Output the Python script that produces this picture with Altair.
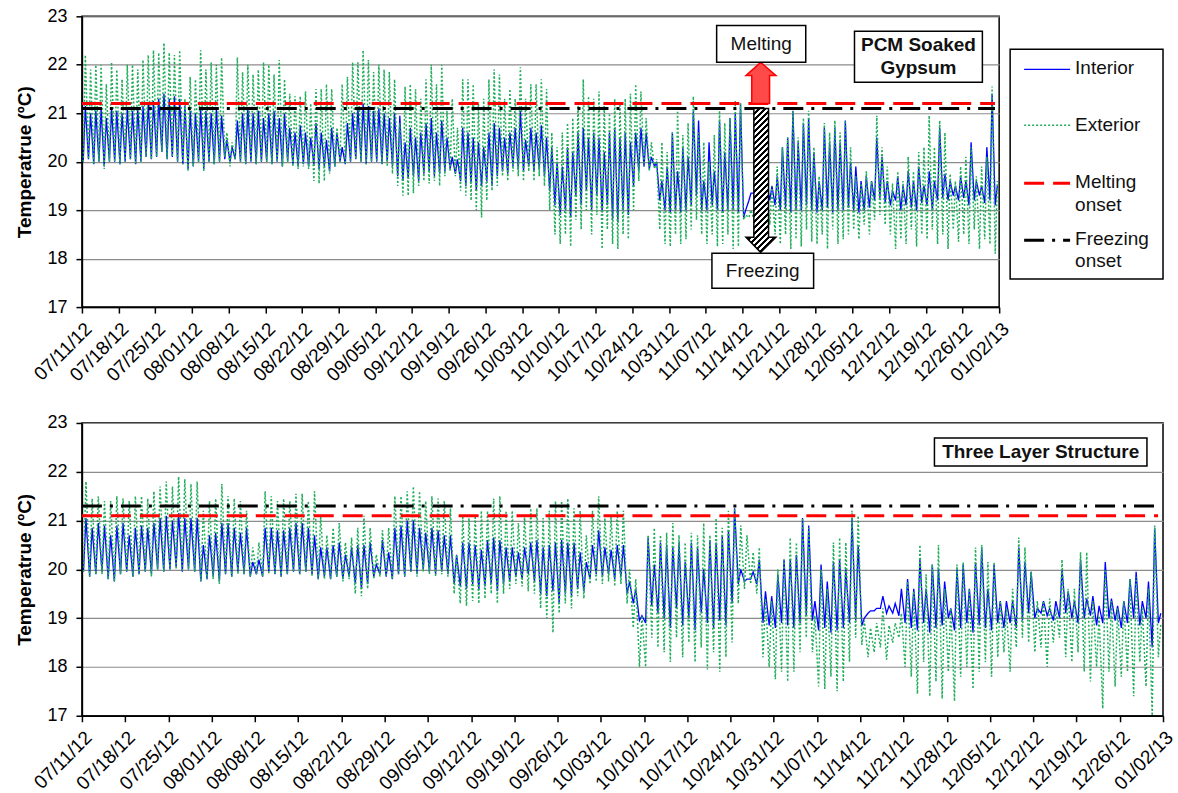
import altair as alt
import pandas as pd

# ---------------- tick labels (one every 7 days, day 0 = 07/11/12) ----------------
tick_labels = ['07/11/12', '07/18/12', '07/25/12', '08/01/12', '08/08/12', '08/15/12',
               '08/22/12', '08/29/12', '09/05/12', '09/12/12', '09/19/12', '09/26/12',
               '10/03/12', '10/10/12', '10/17/12', '10/24/12', '10/31/12', '11/07/12',
               '11/14/12', '11/21/12', '11/28/12', '12/05/12', '12/12/12', '12/19/12',
               '12/26/12', '01/02/13']

# ---------------- PCM soaked gypsum: daily minimum / maximum (degC) ----------------
pcm_int_min = [
    20.0, 20.05, 19.95, 20.0, 19.9, 20.0, 20.0,
    19.95, 20.0, 20.05, 19.95, 20.0, 20.1, 20.05,
    20.1, 20.2, 20.05, 20.1, 20.0, 19.95, 19.85,
    19.9, 20.0, 19.85, 20.0, 19.95, 20.0, 20.05,
    20.0, 20.05, 20.0, 19.95, 20.0, 19.95, 20.0,
    20.0, 19.95, 20.0, 19.9, 20.0, 19.95, 19.9,
    19.95, 19.9, 19.95, 19.85, 19.9, 19.8, 19.9,
    20.0, 19.95, 20.0, 20.05, 20.0, 19.95, 20.0,
    20.0, 19.95, 20.0, 19.9, 19.7, 19.6, 19.65,
    19.7, 19.6, 19.75, 19.8, 19.7, 19.75, 19.8,
    19.85, 19.75, 19.6, 19.5, 19.55, 19.4, 19.5,
    19.6, 19.5, 19.7, 19.8, 19.75, 19.9, 19.85,
    19.8, 19.9, 19.8, 19.85, 19.7, 19.4, 19.1,
    18.9, 19.0, 18.85, 19.3, 19.1, 19.4, 19.0,
    19.3, 18.95, 19.1, 18.8, 18.75, 19.0, 18.9,
    19.5, 19.8, 19.9, 19.85, 19.9, 19.2, 19.0,
    18.95, 19.0, 18.95, 19.0, 19.1, 19.3, 19.0,
    19.0, 19.1, 19.0, 18.95, 19.0, 19.0, 18.95,
    18.85, 19.2, 19.35, 19.4, 19.3, 19.2, 19.1,
    19.0, 19.05, 18.95, 19.0, 19.0, 19.1, 19.0,
    18.95, 19.0, 19.05, 18.95, 19.0, 19.0, 19.05,
    19.0, 18.95, 19.0, 19.05, 19.2, 19.25, 19.15,
    19.1, 19.2, 19.0, 19.1, 19.05, 19.0, 19.15,
    19.1, 19.0, 19.2, 19.25, 19.2, 19.3, 19.2,
    19.25, 19.1, 19.2, 19.3, 19.15, 19.2, 19.1,
]
pcm_int_max = [
    21.15, 21.0, 21.05, 21.1, 20.9, 21.1, 21.05,
    21.0, 21.1, 21.05, 21.1, 21.15, 21.2, 21.25,
    21.3, 21.4, 21.3, 21.35, 21.3, 21.15, 21.05,
    21.0, 21.1, 21.05, 21.0, 21.1, 20.95, 20.45,
    20.3, 20.85, 21.0, 21.1, 21.0, 21.05, 20.9,
    21.0, 21.05, 20.9, 21.0, 20.7, 20.6, 20.75,
    20.6, 20.5, 20.8, 20.6, 20.45, 20.7, 20.6,
    20.3, 20.8, 21.0, 21.1, 21.2, 21.15, 21.05,
    21.1, 21.0, 20.9, 21.0, 20.95, 20.4, 20.7,
    20.5, 20.6, 20.8, 20.9, 20.6, 20.85, 20.5,
    20.1, 20.05, 20.7, 20.6, 20.5, 20.4, 20.3,
    20.6, 20.8, 20.7, 20.5, 20.6, 20.7, 21.05,
    20.45, 20.7, 20.6, 20.75, 20.5, 20.3, 20.0,
    19.9, 20.3, 20.2, 20.6, 20.7, 20.5, 20.6,
    20.5, 20.2, 20.6, 20.7, 20.5, 20.6, 20.4,
    20.6, 20.7, 20.6, 20.1, 20.0, 19.6, 19.9,
    20.6, 19.8, 20.3, 20.1, 21.05, 20.85, 19.6,
    20.4, 19.8, 20.85, 20.2, 20.9, 21.0, 21.2,
    19.0, 19.35, 19.45, 19.5, 19.55, 19.5, 19.7,
    20.3, 20.5, 21.05, 20.4, 20.8, 20.9, 20.2,
    19.6, 20.7, 20.4, 20.7, 20.4, 20.85, 20.0,
    19.9, 19.6, 19.7, 19.6, 20.5, 20.1, 19.6,
    19.4, 19.7, 19.5, 19.8, 19.6, 19.9, 19.5,
    19.8, 19.6, 20.7, 19.75, 19.6, 19.5, 19.7,
    19.6, 20.4, 19.6, 19.5, 20.3, 21.4, 19.5,
]
pcm_ext_min = [
    20.0, 20.05, 19.95, 20.0, 19.85, 20.0, 20.0,
    19.95, 20.0, 20.05, 19.95, 20.0, 20.1, 20.05,
    20.1, 20.2, 20.05, 20.1, 20.0, 19.95, 19.8,
    19.9, 20.0, 19.8, 20.0, 19.95, 20.0, 20.1,
    19.9, 20.05, 20.0, 19.95, 20.0, 19.95, 20.0,
    20.0, 19.95, 20.0, 19.9, 20.0, 19.9, 19.85,
    19.9, 19.85, 19.6, 19.55, 19.6, 19.75, 19.9,
    20.0, 19.95, 20.0, 20.05, 20.0, 19.95, 20.0,
    20.0, 19.95, 19.9, 19.75, 19.5, 19.3, 19.3,
    19.35, 19.5, 19.6, 19.55, 19.6, 19.5, 19.7,
    19.8, 19.7, 19.4, 19.3, 19.2, 19.0, 18.85,
    19.2, 19.4, 19.5, 19.7, 19.6, 19.8, 19.7,
    19.6, 19.8, 19.6, 19.7, 19.5, 19.0, 18.5,
    18.3, 18.5, 18.25, 18.8, 18.6, 19.0, 18.5,
    18.9, 18.2, 18.6, 18.3, 18.2, 18.5, 18.4,
    19.0, 19.6, 19.9, 19.8, 19.85, 18.6, 18.3,
    18.25, 18.5, 18.3, 18.4, 18.6, 18.8, 18.5,
    18.3, 18.5, 18.25, 18.3, 18.5, 18.2, 18.25,
    18.8, 18.85, 18.8, 18.9, 18.85, 18.7, 18.5,
    18.3, 18.5, 18.2, 18.4, 18.25, 18.6, 18.35,
    18.3, 18.5, 18.2, 18.6, 18.3, 18.4, 18.5,
    18.6, 18.4, 18.7, 18.5, 18.8, 18.9, 18.7,
    18.5, 18.2, 18.4, 18.3, 18.6, 18.25, 18.5,
    18.4, 18.6, 18.3, 18.5, 18.2, 18.6, 18.35,
    18.5, 18.3, 18.6, 18.2, 18.4, 18.3, 18.1,
]
pcm_ext_max = [
    22.2, 21.9, 22.0, 22.0, 21.6, 22.05, 21.9,
    21.7, 22.0, 22.0, 21.9, 22.1, 22.2, 22.3,
    22.25, 22.45, 22.25, 22.2, 22.3, 21.3, 21.75,
    21.7, 22.3, 21.9, 22.05, 22.0, 22.15, 20.6,
    20.4, 22.15, 21.85, 22.0, 21.8, 21.9, 22.05,
    22.0, 21.8, 22.1, 21.7, 21.4, 21.35, 21.35,
    21.45, 21.2, 21.5, 21.5, 21.6, 21.5, 20.7,
    21.6, 21.75, 22.05, 22.05, 22.3, 22.1, 21.85,
    22.0, 21.9, 21.85, 21.7, 20.8, 21.55, 21.6,
    21.5, 21.3, 21.7, 22.0, 21.6, 22.0, 21.05,
    21.3, 20.7, 21.7, 21.7, 21.6, 21.2, 21.3,
    21.7, 21.9, 21.8, 21.3, 21.5, 21.3, 21.95,
    21.3, 21.6, 21.6, 21.7, 21.5, 20.6, 20.3,
    20.6, 20.8, 20.9, 21.2, 21.7, 21.35, 21.3,
    21.45, 21.2, 21.0, 21.3, 21.2, 21.3, 21.4,
    21.6, 21.45, 20.9, 20.4, 20.05, 20.4, 20.2,
    20.6, 21.05, 20.55, 20.8, 21.35, 20.6, 20.4,
    20.0, 20.55, 21.05, 20.8, 20.9, 21.25, 21.2,
    18.9, 19.0, 19.2, 19.3, 19.4, 19.5, 19.9,
    20.3, 20.5, 21.05, 20.5, 20.9, 21.05, 20.3,
    19.7, 20.8, 20.6, 20.85, 20.6, 20.85, 20.3,
    19.7, 19.55, 19.8, 19.6, 20.95, 20.3, 19.9,
    19.55, 19.8, 19.6, 20.1, 19.8, 20.2, 20.3,
    20.95, 20.3, 20.85, 20.6, 19.75, 19.6, 19.9,
    20.1, 20.3, 19.7, 19.9, 20.1, 21.55, 19.6,
]

# ---------------- Three layer structure: daily minimum / maximum (degC) ----------------
tls_int_min = [
    19.95, 19.85, 19.9, 19.95, 19.8, 19.75, 19.9,
    19.95, 19.85, 19.9, 19.95, 19.9, 20.0, 19.95,
    20.0, 20.05, 19.95, 20.0, 19.95, 19.75, 19.8,
    19.85, 19.75, 19.9, 19.85, 19.95, 19.9, 19.85,
    19.9, 19.85, 19.95, 19.9, 19.85, 19.9, 19.95,
    19.9, 19.95, 19.9, 19.8, 19.85, 19.8, 19.85,
    19.8, 19.85, 19.7, 19.6, 19.7, 19.85, 19.9,
    19.85, 19.8, 19.9, 19.85, 19.95, 19.9, 20.0,
    19.95, 19.9, 19.95, 19.9, 19.7, 19.65, 19.6,
    19.7, 19.6, 19.65, 19.7, 19.55, 19.7, 19.75,
    19.85, 19.8, 19.9, 19.75, 19.5, 19.45, 19.55,
    19.3, 19.5, 19.45, 19.6, 19.55, 19.8, 19.9,
    19.85, 19.9, 19.8, 19.85, 19.5, 19.3, 18.95,
    18.9, 19.25, 19.1, 19.0, 18.8, 19.2, 18.85,
    19.0, 18.75, 19.1, 18.9, 18.8, 18.95, 18.85,
    19.3, 19.7, 19.75, 19.8, 19.7, 18.9, 18.85,
    18.8, 18.9, 18.85, 18.8, 18.9, 19.05, 18.95,
    18.75, 18.8, 18.7, 18.75, 18.8, 18.9, 18.95,
    18.85, 19.1, 19.15, 19.2, 19.1, 19.1, 19.05,
    18.9, 18.8, 18.75, 18.9, 18.7, 18.8, 18.85,
    19.0, 18.75, 18.8, 18.9, 18.7, 18.85, 18.8,
    18.75, 18.9, 18.8, 18.9, 18.8, 18.95, 19.1,
    19.0, 19.1, 19.05, 18.95, 19.0, 19.1, 19.0,
    18.9, 19.0, 19.05, 18.85, 18.9, 19.0, 18.95,
    18.8, 18.9, 19.0, 18.85, 19.0, 18.4, 18.9,
]
tls_int_max = [
    21.05, 20.85, 20.95, 20.9, 20.7, 20.9, 20.95,
    20.7, 20.85, 20.9, 20.85, 20.95, 21.05, 21.1,
    21.0, 21.15, 21.05, 21.05, 21.05, 20.5, 20.7,
    20.75, 20.95, 20.95, 20.85, 20.75, 20.85, 20.15,
    20.2, 20.85, 20.85, 20.8, 20.8, 20.85, 20.95,
    20.95, 20.85, 20.7, 20.45, 20.45, 20.5, 20.55,
    20.3, 20.45, 20.5, 20.5, 20.55, 20.1, 20.6,
    20.35, 20.85, 20.9, 21.0, 21.0, 20.85, 20.75,
    20.85, 20.8, 20.7, 20.7, 20.3, 20.55, 20.55,
    20.5, 20.4, 20.6, 20.65, 20.6, 20.45, 20.45,
    20.35, 20.45, 20.55, 20.6, 20.45, 20.5, 20.55,
    20.6, 20.55, 20.55, 20.35, 20.15, 20.5, 20.8,
    20.45, 20.4, 20.5, 20.5, 19.75, 19.6, 19.05,
    20.65, 20.1, 20.55, 20.5, 20.45, 20.55, 20.15,
    20.55, 20.45, 20.0, 20.6, 20.55, 20.7, 20.8,
    21.25, 20.0, 19.8, 19.95, 20.2, 19.55, 19.45,
    19.9, 20.2, 20.2, 20.3, 21.05, 20.9, 19.35,
    20.1, 19.75, 20.15, 20.2, 20.0, 21.05, 20.5,
    19.0, 19.15, 19.2, 19.45, 19.25, 19.3, 19.6,
    19.8, 19.6, 20.2, 19.6, 20.1, 20.0, 19.75,
    19.2, 20.0, 20.1, 19.6, 20.15, 20.45, 19.6,
    20.1, 19.35, 19.35, 19.35, 20.45, 20.15, 19.95,
    19.2, 19.35, 19.2, 19.35, 20.0, 19.55, 19.35,
    20.2, 19.4, 19.45, 19.25, 20.15, 19.4, 19.25,
    19.35, 19.8, 19.95, 19.35, 19.75, 20.85, 19.1,
]
tls_ext_min = [
    19.95, 19.85, 19.9, 19.9, 19.8, 19.75, 19.9,
    19.95, 19.85, 19.9, 19.95, 19.85, 20.0, 19.95,
    20.0, 20.0, 19.95, 20.0, 19.95, 19.75, 19.8,
    19.8, 19.7, 19.9, 19.85, 19.9, 19.9, 19.85,
    19.9, 19.85, 19.9, 19.9, 19.85, 19.9, 19.95,
    19.9, 19.95, 19.85, 19.8, 19.8, 19.8, 19.85,
    19.75, 19.8, 19.5, 19.45, 19.6, 19.8, 19.85,
    19.85, 19.8, 19.9, 19.85, 19.95, 19.85, 19.95,
    19.9, 19.85, 19.9, 19.85, 19.5, 19.3, 19.25,
    19.35, 19.3, 19.4, 19.5, 19.3, 19.5, 19.6,
    19.7, 19.65, 19.55, 19.5, 19.2, 19.0, 18.7,
    19.1, 19.3, 19.2, 19.45, 19.4, 19.7, 19.75,
    19.7, 19.75, 19.65, 19.7, 19.3, 18.8, 18.0,
    18.0, 18.6, 18.4, 18.3, 18.1, 18.6, 18.2,
    18.5, 18.1, 18.4, 17.95, 18.3, 17.9, 18.2,
    18.5, 19.3, 19.6, 19.7, 19.5, 18.2, 18.0,
    17.75, 17.9, 17.7, 17.9, 18.3, 18.6, 18.3,
    17.6, 17.55, 17.8, 17.5, 17.7, 18.1, 18.6,
    18.45, 18.2, 18.3, 18.4, 18.15, 18.5, 18.6,
    18.0, 17.8, 17.45, 18.1, 17.4, 17.7, 17.35,
    17.9, 17.3, 17.8, 18.0, 17.55, 17.9, 18.1,
    17.8, 18.2, 18.3, 17.9, 18.4, 18.6, 18.5,
    18.3, 18.4, 18.0, 18.5, 18.6, 18.2, 18.1,
    18.3, 17.9, 17.7, 18.0, 17.15, 17.9, 17.6,
    17.8, 17.9, 17.4, 18.1, 17.6, 17.0, 18.2,
]
tls_ext_max = [
    21.8, 21.45, 21.5, 21.4, 21.4, 21.5, 21.45,
    21.4, 21.5, 21.5, 21.45, 21.6, 21.7, 21.8,
    21.7, 21.9, 21.85, 21.75, 21.8, 21.2, 21.4,
    21.45, 21.75, 21.5, 21.45, 21.4, 21.2, 20.45,
    20.55, 21.6, 21.5, 21.4, 21.45, 21.4, 21.55,
    21.55, 21.4, 21.6, 21.1, 20.7, 20.85, 20.95,
    20.55, 20.65, 20.85, 21.1, 20.85, 20.3, 20.8,
    20.85, 21.5, 21.5, 21.6, 21.7, 21.6, 21.4,
    21.5, 21.45, 21.4, 21.25, 20.3, 21.1, 21.05,
    21.1, 21.2, 21.2, 21.45, 21.5, 21.2, 21.2,
    20.95, 21.1, 21.25, 21.25, 21.05, 21.2, 21.4,
    21.4, 21.45, 21.25, 21.2, 20.7, 21.2, 21.5,
    21.05, 21.1, 21.2, 21.2, 20.0, 19.8, 19.05,
    20.7, 20.85, 20.7, 20.75, 20.95, 20.7, 20.55,
    20.75, 20.7, 20.95, 20.7, 21.05, 20.85, 21.2,
    21.25, 20.9, 20.7, 20.35, 20.45, 19.4, 19.35,
    20.0, 20.2, 20.65, 20.55, 21.05, 20.85, 19.05,
    20.0, 19.6, 20.55, 20.65, 20.55, 21.2, 21.1,
    18.95, 18.8, 18.9, 19.2, 18.85, 18.9, 19.1,
    19.75, 19.55, 20.5, 19.9, 20.1, 20.5, 19.6,
    19.2, 20.1, 20.15, 19.6, 20.45, 20.5, 20.15,
    20.15, 19.35, 19.2, 19.6, 20.65, 20.45, 19.95,
    19.35, 19.35, 19.4, 19.2, 20.2, 19.6, 19.6,
    20.35, 20.35, 19.35, 19.05, 20.0, 19.35, 19.2,
    19.35, 19.8, 19.85, 19.2, 19.6, 20.9, 18.9,
]

# phase-change onsets (degC)
pcm_melt, pcm_freeze = 21.2, 21.1
tls_melt, tls_freeze = 21.1, 21.3

FONT = 'Liberation Sans'
N_DAYS = 175


def series_frame(lo, hi, name):
    assert len(lo) == N_DAYS and len(hi) == N_DAYS, (name, len(lo), len(hi))
    rows = []
    for d in range(N_DAYS):
        rows.append({'t': d + 0.25, 'temp': lo[d]})
        rows.append({'t': d + 0.65, 'temp': hi[d]})
    return pd.DataFrame(rows)


label_expr = "[" + ",".join("'" + s + "'" for s in tick_labels) + "][round(datum.value / 7)]"
X_AXIS = alt.Axis(values=[7 * i for i in range(len(tick_labels))], labelExpr=label_expr,
                  labelAngle=-45, labelAlign='right', labelBaseline='top', labelPadding=6,
                  labelFontSize=19, labelOverlap=False, labelFlush=False, tickSize=6,
                  grid=False, title=None)
Y_AXIS = alt.Axis(values=[17, 18, 19, 20, 21, 22, 23], grid=True, gridColor='#8c8c8c',
                  gridWidth=1.2, tickSize=6, labelFontSize=18, labelPadding=9,
                  titleFontSize=19, titleFontWeight='bold', titlePadding=12)
Y_TITLE = 'Temperatrue (ºC)'


def xenc(field, **kw):
    return alt.X(field, type='quantitative', scale=alt.Scale(domain=[0, 175], nice=False, zero=False),
                 axis=X_AXIS, title=None, **kw)


def yenc(field):
    return alt.Y(field, type='quantitative', scale=alt.Scale(domain=[17, 23], nice=False, zero=False),
                 axis=Y_AXIS, title=Y_TITLE)


def ref_lines(melt, freeze):
    melt_df = pd.DataFrame({'x0': [0], 'x1': [174.2], 'y': [melt]})
    frz_df = pd.DataFrame({'x0': [0], 'x1': [174.2], 'y': [freeze]})
    m = alt.Chart(melt_df).mark_rule(color='#ff0000', strokeWidth=3, strokeDash=[20, 9]).encode(
        x=xenc('x0'), x2='x1', y=yenc('y'))
    f = alt.Chart(frz_df).mark_rule(color='#000000', strokeWidth=3, strokeDash=[20, 8, 3, 8]).encode(
        x=xenc('x0'), x2='x1', y=yenc('y'))
    return [f, m]


def data_lines(int_lo, int_hi, ext_lo, ext_hi):
    d_int = series_frame(int_lo, int_hi, 'Interior')
    d_ext = series_frame(ext_lo, ext_hi, 'Exterior')
    li = alt.Chart(d_int).mark_line(color='#0000ff', strokeWidth=1.3).encode(x=xenc('t'), y=yenc('temp'))
    le = alt.Chart(d_ext).mark_line(color='#1fae5a', strokeWidth=1.5, strokeDash=[2, 2]).encode(
        x=xenc('t'), y=yenc('temp'))
    return [li, le]


def boxes(df):
    return alt.Chart(df).mark_rect(fill='white', stroke='black', strokeWidth=1.5).encode(
        x=xenc('x0'), x2='x1', y=yenc('y0'), y2='y1')


def texts(df, bold=False):
    return alt.Chart(df).mark_text(font=FONT, fontSize=19, color='#111111',
                                   fontWeight='bold' if bold else 'normal').encode(
        x=xenc('x'), y=yenc('y'), text='label:N')


# ---------------- annotations, top panel ----------------
top_boxes = pd.DataFrame({'x0': [121.1, 120.2, 147.4], 'x1': [138.1, 139.6, 171.8],
                          'y0': [22.05, 17.39, 21.64], 'y1': [22.81, 18.11, 22.69]})
top_plain = pd.DataFrame({'label': ['Melting', 'Freezing'], 'x': [129.6, 129.9], 'y': [22.43, 17.75]})
top_bold = pd.DataFrame({'label': ['PCM Soaked', 'Gypsum'], 'x': [159.6, 159.6], 'y': [22.4, 21.93]})

melt_arrow = pd.DataFrame({'T': [21.2, 21.78, 21.781, 22.05],
                           'xl': [127.8, 127.8, 126.7, 129.5],
                           'xr': [131.2, 131.2, 132.4, 129.5]})
freeze_arrow = pd.DataFrame({'T': [18.13, 18.439, 18.44, 21.1],
                             'xl': [129.5, 126.7, 128.2, 128.2],
                             'xr': [129.5, 132.4, 131.0, 131.0]})

period = 6 / 721
stops = []
k = 0
while k * period < 0.3:
    a = k * period
    stops += [alt.GradientStop(color='#000000', offset=round(a, 5)),
              alt.GradientStop(color='#000000', offset=round(a + period * 0.5, 5)),
              alt.GradientStop(color='#ffffff', offset=round(a + period * 0.5, 5)),
              alt.GradientStop(color='#ffffff', offset=round(a + period, 5))]
    k += 1
stops.append(alt.GradientStop(color='#ffffff', offset=1.0))
hatch = alt.LinearGradient(gradient='linear', stops=stops, x1=0, y1=0, x2=1, y2=4.8)

red_arrow = alt.Chart(melt_arrow).mark_area(orient='horizontal', fill='#ff4a4a', stroke='#ff0000',
                                            strokeWidth=1.5).encode(
    y=yenc('T'), x=xenc('xl', stack=False), x2='xr')
black_arrow = alt.Chart(freeze_arrow).mark_area(orient='horizontal', fill=hatch, stroke='#000000',
                                                strokeWidth=1.5).encode(
    y=yenc('T'), x=xenc('xl', stack=False), x2='xr')

# ---------------- legend (drawn at the right of the top panel) ----------------
one = pd.DataFrame({'k': [0]})
legend_layers = [
    alt.Chart(one).mark_rect(fill='white', stroke='black', strokeWidth=1.5).encode(
        x=alt.value(929), x2=alt.value(1082), y=alt.value(33), y2=alt.value(263)),
    alt.Chart(one).mark_rule(color='#0000ff', strokeWidth=1.3).encode(
        x=alt.value(943), x2=alt.value(989), y=alt.value(53)),
    alt.Chart(one).mark_rule(color='#1fae5a', strokeWidth=1.5, strokeDash=[2, 2]).encode(
        x=alt.value(943), x2=alt.value(989), y=alt.value(109)),
    alt.Chart(one).mark_rule(color='#ff0000', strokeWidth=3, strokeDash=[20, 9]).encode(
        x=alt.value(943), x2=alt.value(989), y=alt.value(167)),
    alt.Chart(one).mark_rule(color='#000000', strokeWidth=3, strokeDash=[20, 8, 3, 8]).encode(
        x=alt.value(943), x2=alt.value(989), y=alt.value(224)),
]
for txt, py in [('Interior', 52), ('Exterior', 109), ('Melting', 166), ('onset', 189),
                ('Freezing', 223), ('onset', 245)]:
    legend_layers.append(
        alt.Chart(one).mark_text(text=txt, font=FONT, fontSize=19, color='#111111', align='left',
                                 baseline='middle').encode(x=alt.value(994), y=alt.value(py)))

top = alt.layer(
    *data_lines(pcm_int_min, pcm_int_max, pcm_ext_min, pcm_ext_max),
    *ref_lines(pcm_melt, pcm_freeze),
    red_arrow, black_arrow,
    boxes(top_boxes), texts(top_plain), texts(top_bold, bold=True),
    *legend_layers,
).properties(width=918, height=291)

# ---------------- bottom panel ----------------
bot_boxes = pd.DataFrame({'x0': [138.0], 'x1': [172.4], 'y0': [22.12], 'y1': [22.69]})
bot_bold = pd.DataFrame({'label': ['Three Layer Structure'], 'x': [155.2], 'y': [22.4]})

bottom = alt.layer(
    *data_lines(tls_int_min, tls_int_max, tls_ext_min, tls_ext_max),
    *ref_lines(tls_melt, tls_freeze),
    boxes(bot_boxes), texts(bot_bold, bold=True),
).properties(width=1082, height=293)

chart = alt.vconcat(top, bottom, spacing=27).properties(
    padding={'left': 15, 'top': 6, 'right': 0, 'bottom': 0}
).configure_view(stroke='black', strokeWidth=1.5).configure_axis(
    domainColor='black', tickColor='black', labelColor='black', titleColor='black',
    labelFont=FONT, titleFont=FONT, domainWidth=1.5, tickWidth=1.5
)

chart.save('out.html', embed_options={'renderer': 'svg', 'actions': False})
